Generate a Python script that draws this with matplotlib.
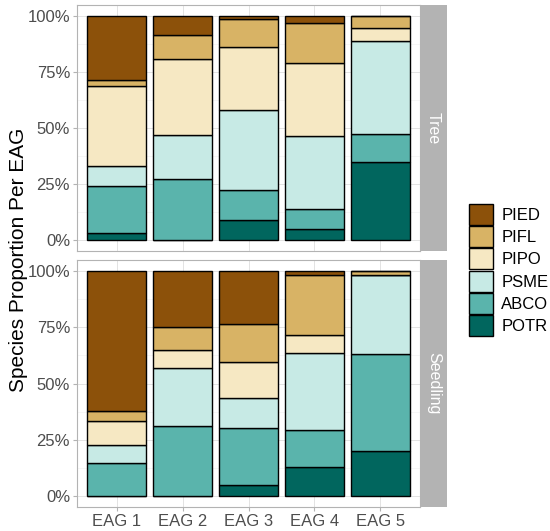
import matplotlib
matplotlib.use("Agg")
import matplotlib.pyplot as plt
from matplotlib.patches import Patch
import numpy as np

plt.rcParams["font.family"] = ["Liberation Sans", "DejaVu Sans"]

# === data (proportions in %) ===
eags = ["EAG 1", "EAG 2", "EAG 3", "EAG 4", "EAG 5"]
species = ["PIED", "PIFL", "PIPO", "PSME", "ABCO", "POTR"]
colors = ["#8c510a", "#d8b365", "#f6e8c3", "#c7eae5", "#5ab4ac", "#01665e"]

# stacking order: POTR at the bottom, PIED on top
tree_potr = [3.0, 0.0, 9.0, 4.7, 34.9]
tree_abco = [21.1, 27.0, 13.3, 9.0, 12.4]
tree_psme = [9.0, 19.7, 35.6, 32.5, 41.8]
tree_pipo = [35.6, 34.2, 28.5, 32.8, 5.6]
tree_pifl = [2.9, 10.5, 12.3, 17.8, 5.3]
tree_pied = [28.4, 8.6, 1.3, 3.2, 0.0]

seed_potr = [0.0, 0.0, 5.0, 12.7, 20.1]
seed_abco = [14.8, 31.2, 25.3, 16.7, 43.0]
seed_psme = [7.9, 25.5, 13.3, 34.4, 35.4]
seed_pipo = [10.4, 8.0, 16.1, 7.7, 0.0]
seed_pifl = [4.6, 10.6, 16.8, 27.0, 1.5]
seed_pied = [62.3, 24.7, 23.5, 1.5, 0.0]

panels = [
    ("Tree", [tree_pied, tree_pifl, tree_pipo, tree_psme, tree_abco, tree_potr]),
    ("Seedling", [seed_pied, seed_pifl, seed_pipo, seed_psme, seed_abco, seed_potr]),
]

W, H = 550, 531
fig = plt.figure(figsize=(W / 100, H / 100), dpi=100)

left, right = 77, 420
strip_w = 27
boxes = [(5, 251), (260, 507)]

x = np.arange(1, len(eags) + 1)
for (label, rows), (top, bottom) in zip(panels, boxes):
    ax = fig.add_axes([left / W, 1 - bottom / H, (right - left) / W, (bottom - top) / H])
    base = np.zeros(len(eags))
    # draw from bottom (POTR) up to PIED
    for vals, col in zip(rows[::-1], colors[::-1]):
        v = np.array(vals) / 100
        ax.bar(x, v, width=0.9, bottom=base, color=col, edgecolor="black",
               linewidth=1.0, zorder=3)
        base += v
    ax.set_xlim(0.4, 5.6)
    ax.set_ylim(-0.05, 1.05)
    ax.set_yticks([0, 0.25, 0.5, 0.75, 1.0])
    ax.set_yticklabels(["0%", "25%", "50%", "75%", "100%"])
    ax.set_yticks([0.125, 0.375, 0.625, 0.875], minor=True)
    ax.set_xticks(x)
    ax.grid(True, which="major", color="#dedede", linewidth=0.6, zorder=0)
    ax.grid(True, which="minor", axis="y", color="#efefef", linewidth=0.4, zorder=0)
    ax.tick_params(axis="both", which="major", length=3, color="#b3b3b3",
                   labelsize=12, labelcolor="#4d4d4d", pad=2)
    ax.tick_params(axis="y", which="minor", length=0)
    for s in ax.spines.values():
        s.set_color("#b3b3b3")
        s.set_linewidth(0.8)
    if label == "Seedling":
        ax.set_xticklabels(eags)
    else:
        ax.set_xticklabels([])
        ax.tick_params(axis="x", length=0)

    sax = fig.add_axes([right / W, 1 - bottom / H, strip_w / W, (bottom - top) / H])
    sax.set_facecolor("#b3b3b3")
    sax.set_xticks([])
    sax.set_yticks([])
    for s in sax.spines.values():
        s.set_visible(False)
    sax.text(0.5, 0.5, label, rotation=-90, ha="center", va="center",
             color="white", fontsize=11.5, transform=sax.transAxes)

fig.text(19 / W, 1 - 260 / H, "Species Proportion Per EAG", rotation=90,
         ha="center", va="center", fontsize=15, color="black")

handles = [Patch(facecolor=c, edgecolor="black", linewidth=1.0) for c in colors]
fig.legend(handles, species, loc="center left", bbox_to_anchor=(462 / W, 1 - 270 / H),
           frameon=False, fontsize=12, handlelength=1.45, handleheight=1.55,
           labelspacing=0.08, handletextpad=0.5, borderaxespad=0)

fig.savefig("out.png", dpi=100)
